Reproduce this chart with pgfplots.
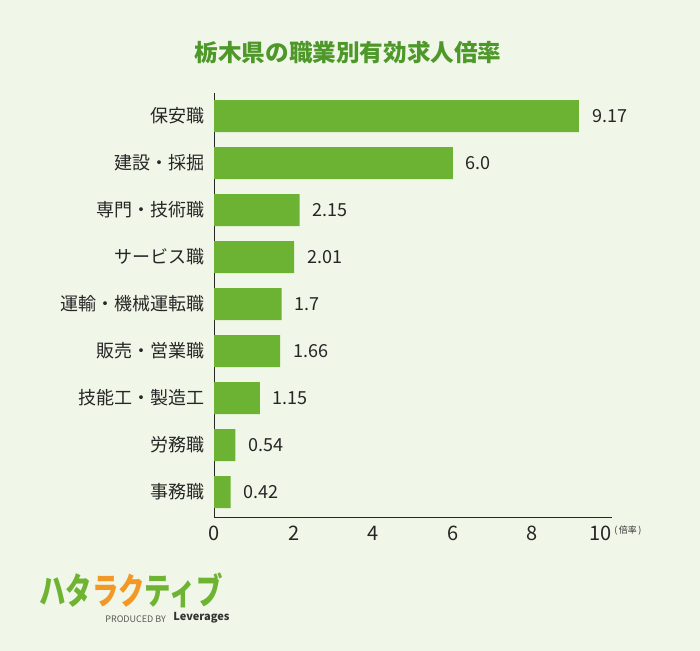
\documentclass[border=0pt]{standalone}
\usepackage{pgfplots}
\pgfplotsset{compat=1.18}
\usepackage{fontspec}
\setmainfont{Noto Sans CJK JP}
\definecolor{bgc}{RGB}{240,247,232}
\definecolor{barc}{RGB}{109,179,51}
\definecolor{titlec}{RGB}{78,152,42}
\definecolor{logoo}{RGB}{243,152,38}
\definecolor{logog}{RGB}{110,180,50}
\begin{document}
\begin{tikzpicture}[x=0.5pt,y=-0.5pt]
\fill[bgc] (0,0) rectangle (700,651);
\node[font=\fontsize{11.8}{13}\selectfont\bfseries, text=titlec] at (348,52) {栃木県の職業別有効求人倍率};
\begin{axis}[
  at={(107pt,-258.5pt)}, anchor=south west,
  scale only axis, width=199pt, height=212pt,
  xmin=0, xmax=10, ymin=-0.53, ymax=8.49,
  axis x line*=bottom, axis y line*=left,
  axis line style={black!85, line width=0.5pt},
  major tick length=0pt,
  xtick={0,2,4,6,8,10},
  xticklabels={0,2,4,6,8,{\makebox[0pt][r]{10}}},
  ytick={0,1,2,3,4,5,6,7,8},
  yticklabels={事務職,労務職,技能工・製造工,販売・営業職,運輸・機械運転職,サービス職,専門・技術職,建設・採掘,保安職},
  /pgf/number format/assume math mode=true,
  xticklabel style={font=\fontsize{10}{12}\selectfont, text=black!85, yshift=-1pt},
  yticklabel style={font=\fontsize{9}{11}\selectfont, text=black!85, xshift=-1pt},
  xbar, bar width=0.68, 
  nodes near coords, nodes near coords align={horizontal}, point meta=explicit symbolic,
  every node near coord/.append style={font=\fontsize{9}{11}\selectfont, text=black!85, anchor=west, xshift=3pt},
  clip=false,
]
\addplot[fill=barc, draw=none] table[x=v, y=i, meta=lab] {
i v lab
0 0.42 0.42
1 0.54 0.54
2 1.15 1.15
3 1.66 1.66
4 1.7 1.7
5 2.01 2.01
6 2.15 2.15
7 6.0 6.0
8 9.17 9.17
};
\end{axis}
\node[anchor=west, inner sep=0, font=\fontsize{4.5}{5}\selectfont, text=black!80] at (614,531) {(\,倍率\,)};
\node[font=\fontsize{16.5}{18}\selectfont\bfseries, xscale=0.8, yscale=1.1, inner sep=0] at (131,590) {\textcolor{logog}{ハタ}\textcolor{logoo}{ラク}\textcolor{logog}{ティブ}};
\node[anchor=west, inner sep=0, font=\fontsize{4.5}{5}\selectfont, text=black!65] at (105,619) {PRODUCED BY};
\node[anchor=west, inner sep=0, font=\fontsize{5.5}{6}\selectfont\bfseries, text=black!80] at (173,618) {Leverages};
\end{tikzpicture}
\end{document}
